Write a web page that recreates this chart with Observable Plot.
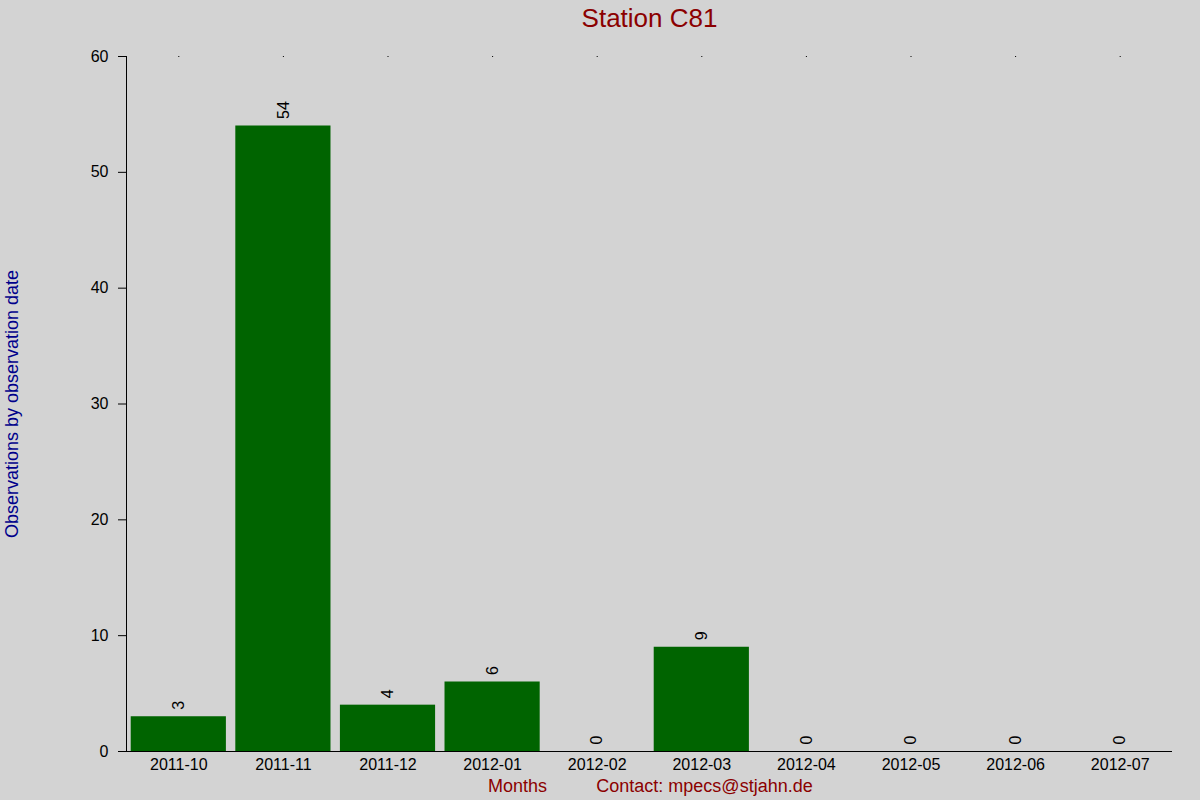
<!DOCTYPE html>
<html>
<head>
<meta charset="utf-8">
<script src="https://cdn.jsdelivr.net/npm/d3@7"></script>
<script src="https://cdn.jsdelivr.net/npm/@observablehq/plot@0.6"></script>
<style>
  html, body { margin: 0; padding: 0; background: #d3d3d3; }
  #chart { width: 1200px; height: 800px; }
</style>
</head>
<body>
<div id="chart"></div>
<script>
const months = ["2011-10", "2011-11", "2011-12", "2012-01", "2012-02", "2012-03", "2012-04", "2012-05", "2012-06", "2012-07"];
const counts = [3, 54, 4, 6, 0, 9, 0, 0, 0, 0];
const yTicks = [0, 10, 20, 30, 40, 50, 60];
const title = "Station C81";
const yLabel = "Observations by observation date";
const xLabel = "Months";
const contact = "Contact: mpecs@stjahn.de";

const data = months.map((m, i) => ({month: m, value: counts[i]}));
const font = "Liberation Sans, Arial, sans-serif";

const chart = Plot.plot({
  width: 1200,
  height: 800,
  marginTop: 56,
  marginBottom: 49,
  marginLeft: 126,
  marginRight: 28,
  style: {background: "#d3d3d3", fontFamily: font, fontSize: "16px", color: "black"},
  x: {domain: months, paddingInner: 0.09, paddingOuter: 0.045, round: false, label: null},
  y: {domain: [0, 60], label: null},
  marks: [
    Plot.barY(data, {x: "month", y: "value", fill: "#006400"}),
    Plot.text(data, {x: "month", y: "value", text: d => String(d.value), rotate: -90, textAnchor: "start", lineAnchor: "middle", dy: -7, fontSize: 16, fill: "black"}),
    Plot.axisY({ticks: yTicks, tickSize: 8, tickPadding: 10, label: null, fontSize: 16}),
    Plot.axisX({anchor: "bottom", tickSize: 0, tickPadding: 7, label: null, fontSize: 16}),
    Plot.axisX({anchor: "top", tickSize: 1, tickFormat: () => "", label: null}),
    Plot.ruleY([0], {stroke: "black"}),
    Plot.frame({anchor: "left", stroke: "black"}),
    Plot.text([title], {frameAnchor: "top", dy: -38, fontSize: 26, fill: "#8b0000", lineAnchor: "middle"}),
    Plot.text([yLabel], {frameAnchor: "left", dx: -114, rotate: -90, fontSize: 18, fill: "#00008b", textAnchor: "middle", lineAnchor: "middle"}),
    Plot.text([xLabel], {frameAnchor: "bottom", dx: -132, dy: 35, fontSize: 18, fill: "#8b0000", lineAnchor: "middle"}),
    Plot.text([contact], {frameAnchor: "bottom", dx: 55, dy: 35, fontSize: 18, fill: "#8b0000", lineAnchor: "middle"})
  ]
});
document.getElementById("chart").append(chart);
</script>
</body>
</html>
